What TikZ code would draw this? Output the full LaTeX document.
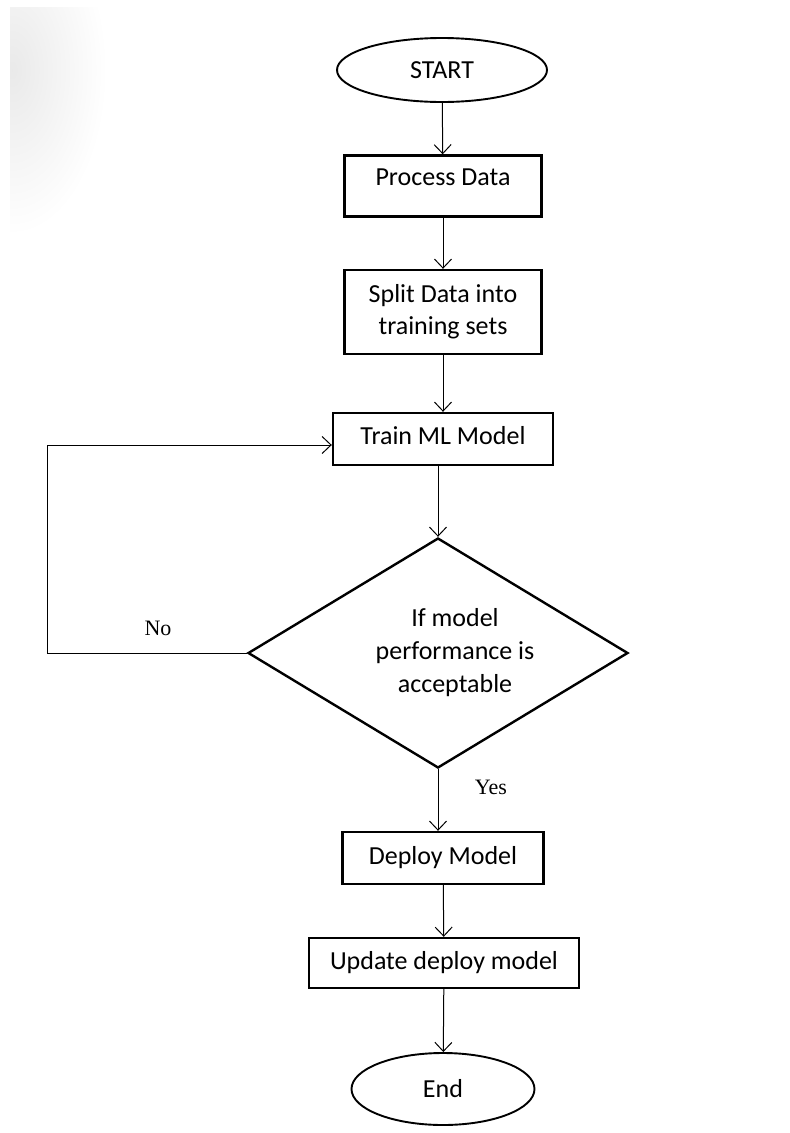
\documentclass[tikz,border=0pt]{standalone}
\usepackage{fontspec}
\setmainfont{Carlito}
\newfontfamily\labelfont{Liberation Serif}
\usetikzlibrary{shapes.geometric,arrows.meta}
\tikzset{
  stepbox/.style={draw, line width=2.4pt, font=\fontsize{26}{32}\selectfont, align=center, inner sep=0pt},
  terminal/.style={draw, ellipse, line width=1.9pt, font=\fontsize{26}{32}\selectfont, inner sep=0pt},
  decision/.style={draw, diamond, line width=2.4pt, inner sep=0pt},
  flow/.style={line width=1pt, -{Straight Barb[length=9pt,width=17pt]}},
  branch/.style={font=\labelfont\fontsize{22}{26}\selectfont}
}
\begin{document}
\begin{tikzpicture}[x=1pt,y=-1pt]
\useasboundingbox (0,0) rectangle (790,1133);
% faint shadow in the corner
\begin{scope}
\clip (10,7) rectangle (130,240);
\shade[inner color=gray!17, outer color=white] (12,70) ellipse [x radius=95pt, y radius=165pt];
\end{scope}
\node[terminal, minimum width=210pt, minimum height=64pt] (start) at (442,70) {START};
\node[stepbox, minimum width=197pt, minimum height=61pt, text depth=17pt] (proc) at (443,186) {Process Data};
\node[stepbox, minimum width=197pt, minimum height=84pt] (split) at (443,312) {Split Data into\\training sets};
\node[stepbox, minimum width=220pt, minimum height=52pt, text depth=8pt] (train) at (443,439) {Train ML Model};
\node[decision, minimum width=380pt, minimum height=230pt] (check) at (438,653) {};
\node[font=\fontsize{26}{33}\selectfont, align=center] (checktxt) at (455,653) {If model\\performance is\\acceptable};
\node[stepbox, minimum width=201pt, minimum height=52pt] (deploy) at (443,858) {Deploy Model};
\node[stepbox, minimum width=270pt, minimum height=50pt] (update) at (444,963) {Update deploy model};
\node[terminal, minimum width=183pt, minimum height=72pt] (stop) at (443,1089) {End};
\coordinate (looptop) at (47,445);
\draw[flow] (start) -- (proc);
\draw[flow] (proc) -- (split);
\draw[flow] (split) -- (train);
\draw[flow] (train.south -| check.north) -- (check.north);
\draw[flow] (check.west) -- (check.west -| looptop) -- (looptop) -- (looptop -| train.west);
\draw[flow] (check.south) -- (deploy.north -| check.south);
\draw[flow] (deploy) -- (update);
\draw[flow] (update) -- (stop);
\node[branch] (nolbl) at (158,628) {No};
\node[branch] (yeslbl) at (491,787) {Yes};
\end{tikzpicture}
\end{document}
